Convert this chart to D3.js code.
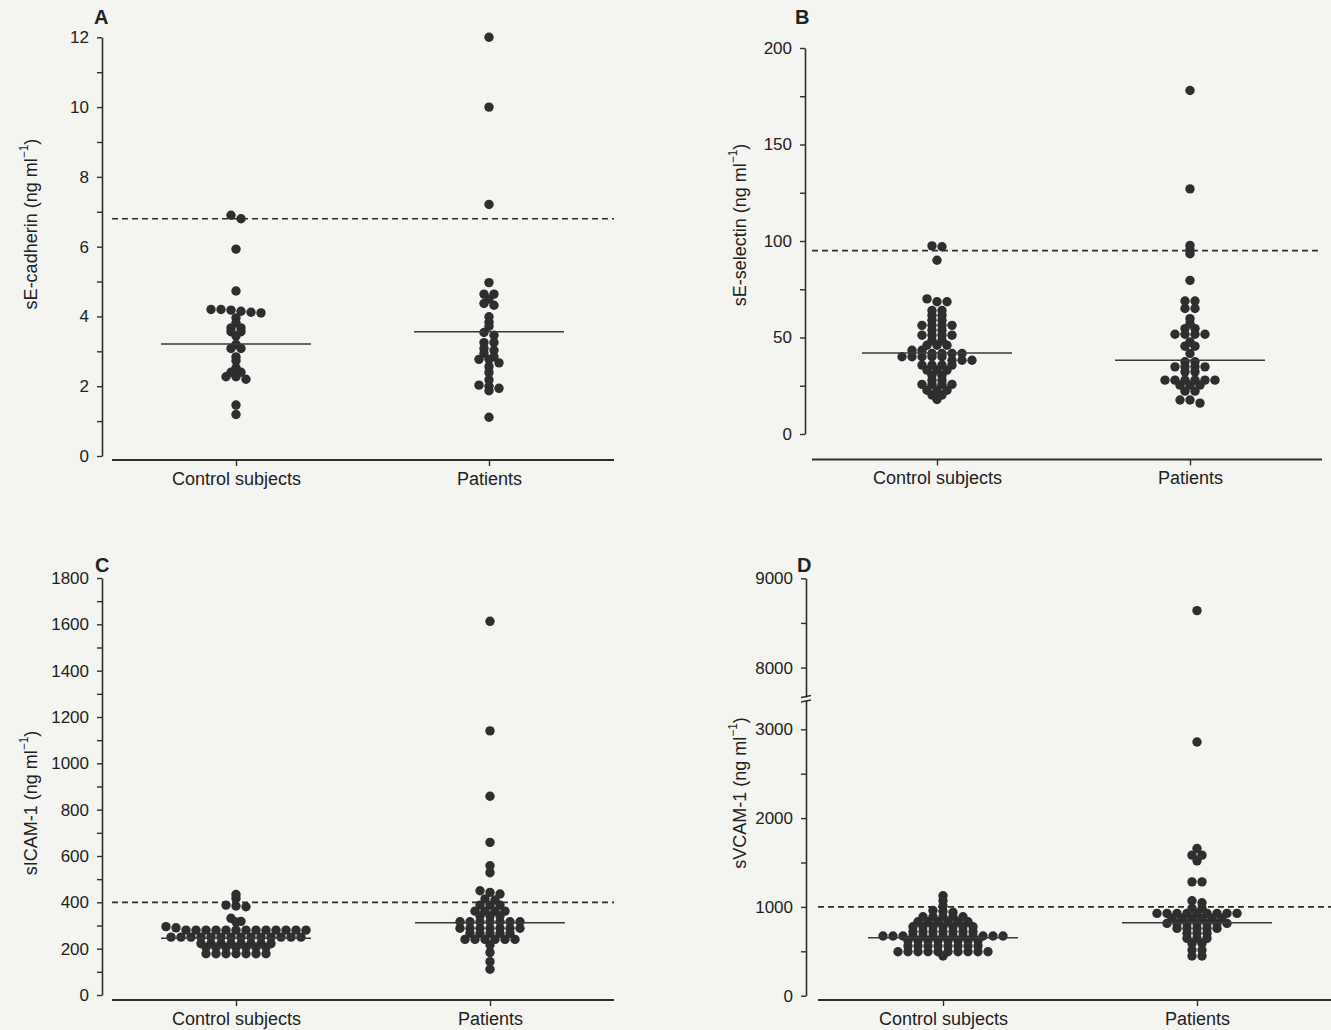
<!DOCTYPE html>
<html>
<head>
<meta charset="utf-8">
<script src="https://cdn.jsdelivr.net/npm/d3@7"></script>
<style>
body { margin: 0; background: #f4f4f1; }
svg { display: block; font-family: "Liberation Sans", Arial, sans-serif; }
</style>
</head>
<body>
<svg id="fig" width="1331" height="1030"></svg>
<script>
// Groups
const categories = ["Control subjects", "Patients"];

// A: sE-cadherin (ng/ml)
const cadherinControl = [6.8, 6.9, 5.93, 4.73, 4.2, 4.2, 4.18, 4.15, 4.12, 4.1, 3.96, 3.82, 3.67, 3.67, 3.56, 3.56, 3.44,
  3.2, 3.08, 3.08, 2.84, 2.73, 2.53, 2.4, 2.4, 2.27, 2.27, 2.2, 1.46, 1.19];
const cadherinPatients = [12.0, 10.0, 7.21, 4.97, 4.64, 4.64, 4.5, 4.37, 4.32, 3.99, 3.83, 3.72, 3.54, 3.46, 3.25, 3.25,
  3.08, 3.03, 2.94, 2.84, 2.77, 2.77, 2.67, 2.56, 2.39, 2.18, 2.03, 2.0, 1.94, 1.87, 1.11];
const cadherinMedians = [3.21, 3.56];
const cadherinCutoff = 6.8;
const cadherinTicks = [0, 2, 4, 6, 8, 10, 12];

// B: sE-selectin (ng/ml)
const selectinControl = [97.5, 97, 90, 70, 68.5, 68.5, 64, 64, 61.5, 61.5, 59, 59, 56.3, 56.3, 56.3, 56.3, 53.7, 53.7,
  51.2, 51.2, 51.2, 51.2, 48.6, 48.6, 46, 46, 46, 43.4, 43.4, 41.7, 41.7, 41.7, 41.7, 40, 40, 40, 40, 40,
  38.2, 38.2, 38.2, 35.7, 35.7, 35.7, 35.7, 33.1, 33.1, 33.1, 30.5, 30.5, 27.9, 27.9, 25.7, 25.7, 25.7, 25.7,
  22.7, 22.7, 22.7, 20.2, 20.2, 17.9];
const selectinPatients = [178, 127, 97.7, 95.4, 93.4, 79.6, 68.9, 68.9, 65, 65, 59.8, 57.2, 54.6, 54.6, 51.7, 51.7, 51.7,
  51.7, 47.7, 45.5, 45.5, 41.7, 37.4, 37.4, 34.8, 34.8, 34.8, 34.8, 32.2, 32.2, 27.9, 27.9, 27.9, 27.9, 27.9, 27.9,
  25.3, 25.3, 25.3, 22.2, 22.2, 17.6, 17.6, 16];
const selectinMedians = [42, 38.2];
const selectinCutoff = 95;
const selectinTicks = [0, 50, 100, 150, 200];

// C: sICAM-1 (ng/ml)
const icamControl = [434, 417, 388, 384, 381, 331, 318, 315, 295, 290,
  280, 280, 280, 280, 280, 280, 280, 280, 280, 280, 280, 280, 280,
  250, 250, 250, 250, 250, 250, 250, 250, 250, 250, 250, 250, 250, 250,
  222, 222, 222, 222, 222, 222, 222, 222,
  205, 205, 205, 205, 205, 205, 205,
  178, 178, 178, 178, 178, 178, 178];
const icamPatients = [1613, 1140, 858, 659, 558, 528, 450, 443, 436, 415, 410, 388, 388, 388, 362, 362, 362, 362,
  341, 341, 341, 316, 316, 316, 316, 316, 316, 316, 288, 288, 288, 288, 288, 288, 288,
  266, 266, 266, 266, 266, 240, 240, 240, 240, 240, 240, 216, 183, 144, 111];
const icamMedians = [245, 312];
const icamCutoff = 400;
const icamTicks = [0, 200, 400, 600, 800, 1000, 1200, 1400, 1600, 1800];

// D: sVCAM-1 (ng/ml), broken axis
const vcamControl = [1125, 1069, 1009, 960, 950, 940, 889, 889, 889, 889, 889, 832, 832, 832, 832, 832, 832,
  776, 776, 776, 776, 776, 776, 776, 720, 720, 720, 720, 720, 720, 720,
  672, 672, 672, 672, 672, 672, 672, 672, 672, 672, 672, 672, 672,
  619, 619, 619, 619, 619, 619, 619, 619, 559, 559, 559, 559, 559, 559, 559, 559,
  495, 495, 495, 495, 495, 495, 495, 495, 495, 495, 447];
const vcamPatients = [8638, 2857, 1658, 1583, 1583, 1519, 1282, 1282, 1069, 1046, 983, 983,
  927, 927, 927, 927, 927, 927, 927, 927, 927, 870, 870, 870, 870, 870, 870,
  814, 814, 814, 814, 814, 814, 814, 758, 758, 758, 758, 758, 702, 702, 702,
  646, 646, 646, 589, 589, 514, 514, 447, 447];
const vcamMedians = [652, 821];
const vcamCutoff = 1000;
const vcamLowTicks = [0, 1000, 2000, 3000];
const vcamHighTicks = [8000, 9000];

const svg = d3.select("#fig");
const ink = "#2e2e2e";
const R = 4.7;      // dot radius
const STEP = 10;    // spacing of dots sharing a row
const TOL = 3.5;    // px: values this close share a row

// scatter-dot layout: near-equal values share a row, centred on the group
function dotRows(values, yf) {
  const pts = values.map(v => ({ v, y: yf(v) })).sort((a, b) => a.y - b.y);
  const bins = [];
  pts.forEach(d => {
    const last = bins[bins.length - 1];
    if (last && d.y - last[0].y <= TOL) last.push(d);
    else bins.push([d]);
  });
  bins.forEach(b => b.forEach((d, i) => { d.x = (i - (b.length - 1) / 2) * STEP; }));
  return pts;
}

function drawPanel(p) {
  const g = svg.append("g");

  // y axis segments
  const scales = p.segments.map(s => {
    const y = d3.scaleLinear().domain(s.domain).range(s.range);
    const ax = g.append("g")
      .attr("transform", `translate(${p.axisX},0)`)
      .call(d3.axisLeft(y).tickValues(s.minor).tickSize(5).tickSizeOuter(0).tickPadding(8)
        .tickFormat(v => s.major.includes(v) ? v : ""));
    ax.select(".domain").attr("stroke", ink).attr("stroke-width", 1.6);
    ax.selectAll(".tick line").attr("stroke", ink).attr("stroke-width", 1.4);
    ax.selectAll(".tick text").attr("fill", "#222").style("font-size", "17px");
    return y;
  });
  const yv = v => {
    if (scales.length > 1 && v >= p.segments[1].domain[0]) return scales[1](v);
    return scales[0](v);
  };

  // axis break marks
  if (p.breakY) {
    p.breakY.forEach(by => {
      g.append("line").attr("x1", p.axisX - 5).attr("x2", p.axisX + 5)
        .attr("y1", by + 1).attr("y2", by - 1)
        .attr("stroke", ink).attr("stroke-width", 1.5);
    });
  }

  // x axis
  const x = d3.scalePoint().domain(categories).range(p.xCats);
  g.append("line")
    .attr("x1", p.xLine[0]).attr("x2", p.xLine[1])
    .attr("y1", p.xAxisY).attr("y2", p.xAxisY)
    .attr("stroke", ink).attr("stroke-width", 2);
  const xa = g.append("g")
    .attr("transform", `translate(0,${p.xAxisY})`)
    .call(d3.axisBottom(x).tickSize(6).tickPadding(6));
  xa.select(".domain").remove();
  xa.selectAll(".tick line").attr("stroke", ink).attr("stroke-width", 1.4);
  xa.selectAll(".tick text").attr("fill", "#222").style("font-size", "18px");

  // cut-off line
  g.append("line")
    .attr("x1", p.xLine[0]).attr("x2", p.xLine[1])
    .attr("y1", yv(p.cutoff)).attr("y2", yv(p.cutoff))
    .attr("stroke", ink).attr("stroke-width", 1.6)
    .attr("stroke-dasharray", "6,4");

  // dots
  p.groups.forEach((vals, i) => {
    const cx = x(categories[i]);
    g.append("g").selectAll("circle")
      .data(dotRows(vals, yv))
      .join("circle")
      .attr("cx", d => cx + d.x)
      .attr("cy", d => d.y)
      .attr("r", R)
      .attr("fill", ink);
  });

  // medians
  p.medians.forEach((m, i) => {
    const cx = x(categories[i]);
    g.append("line")
      .attr("x1", cx - 75).attr("x2", cx + 75)
      .attr("y1", yv(m)).attr("y2", yv(m))
      .attr("stroke", "#3a3a3a").attr("stroke-width", 1.5);
  });

  // panel letter
  g.append("text").attr("x", p.letterPos[0]).attr("y", p.letterPos[1])
    .attr("font-weight", "bold").style("font-size", "20px").attr("fill", "#222")
    .text(p.letter);

  // y title
  const t = g.append("text")
    .attr("transform", `translate(${p.titlePos[0]},${p.titlePos[1]}) rotate(-90)`)
    .attr("text-anchor", "middle")
    .attr("dominant-baseline", "middle")
    .style("font-size", "18px").attr("fill", "#222");
  t.append("tspan").text(p.title + " (ng ml");
  t.append("tspan").attr("baseline-shift", "super").style("font-size", "12px").text("−1");
  t.append("tspan").text(")");
}

drawPanel({
  letter: "A", letterPos: [94, 24], title: "sE-cadherin", titlePos: [32, 224],
  axisX: 102,
  segments: [{ domain: [0, 12], range: [456, 37.3], minor: d3.range(0, 13, 1), major: cadherinTicks }],
  xCats: [236, 489], xLine: [112, 614], xAxisY: 460,
  groups: [cadherinControl, cadherinPatients], medians: cadherinMedians, cutoff: cadherinCutoff
});

drawPanel({
  letter: "B", letterPos: [795, 24], title: "sE-selectin", titlePos: [741, 225],
  axisX: 805,
  segments: [{ domain: [0, 200], range: [434, 48], minor: d3.range(0, 201, 25), major: selectinTicks }],
  xCats: [937, 1190], xLine: [812, 1322], xAxisY: 459.5,
  groups: [selectinControl, selectinPatients], medians: selectinMedians, cutoff: selectinCutoff
});

drawPanel({
  letter: "C", letterPos: [95, 572], title: "sICAM-1", titlePos: [32, 803],
  axisX: 102,
  segments: [{ domain: [0, 1800], range: [995, 578], minor: d3.range(0, 1801, 100), major: icamTicks }],
  xCats: [236, 490], xLine: [112, 614], xAxisY: 1000,
  groups: [icamControl, icamPatients], medians: icamMedians, cutoff: icamCutoff
});

drawPanel({
  letter: "D", letterPos: [797, 572], title: "sVCAM-1", titlePos: [741, 793],
  axisX: 806,
  segments: [
    { domain: [0, 3330], range: [995.7, 700], minor: d3.range(0, 3001, 500), major: vcamLowTicks },
    { domain: [7670, 9000], range: [697, 578.3], minor: [8000, 8500, 9000], major: vcamHighTicks }
  ],
  breakY: [696.5, 701],
  xCats: [943, 1197], xLine: [818, 1331], xAxisY: 1000,
  groups: [vcamControl, vcamPatients], medians: vcamMedians, cutoff: vcamCutoff
});
</script>
</body>
</html>
